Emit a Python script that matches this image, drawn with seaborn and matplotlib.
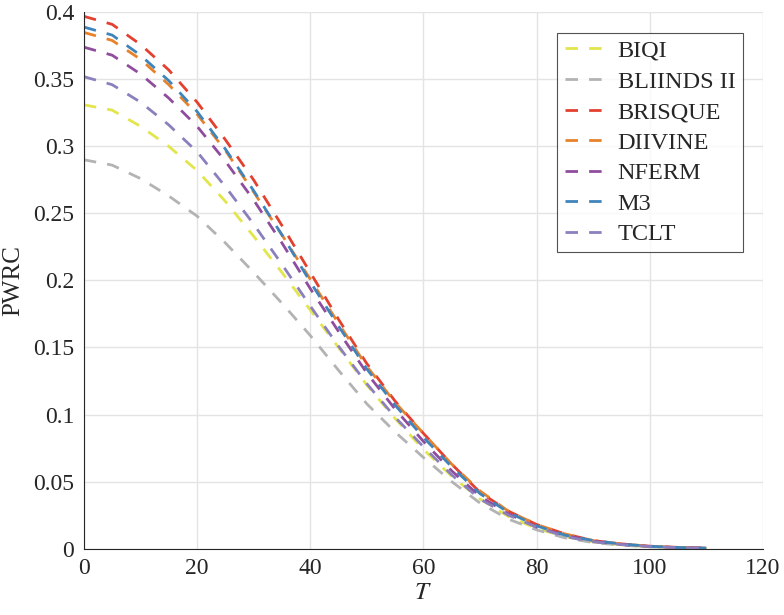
import pandas as pd
import matplotlib
matplotlib.use("Agg")
import matplotlib.pyplot as plt
import seaborn as sns

t = [0, 5, 10, 15, 20, 25, 30, 35, 40, 45, 50, 55, 60, 65, 70, 75, 80, 85, 90, 95, 100, 105, 110]

biqi = [0.331, 0.327, 0.315, 0.300, 0.282, 0.259, 0.233, 0.206, 0.178, 0.150, 0.122, 0.097,
        0.074, 0.054, 0.037, 0.024, 0.015, 0.009, 0.005, 0.0028, 0.0014, 0.0007, 0.0003]
bliinds = [0.290, 0.286, 0.276, 0.263, 0.248, 0.228, 0.206, 0.183, 0.159, 0.133, 0.108, 0.087,
           0.068, 0.050, 0.034, 0.022, 0.014, 0.008, 0.0045, 0.0025, 0.0013, 0.0006, 0.0002]
brisque = [0.397, 0.391, 0.376, 0.357, 0.333, 0.305, 0.275, 0.241, 0.206, 0.171, 0.138, 0.110,
           0.086, 0.063, 0.042, 0.028, 0.018, 0.011, 0.006, 0.0035, 0.0018, 0.0009, 0.0004]
diivine = [0.385, 0.379, 0.365, 0.346, 0.324, 0.297, 0.266, 0.234, 0.201, 0.168, 0.136, 0.109,
           0.086, 0.063, 0.043, 0.028, 0.018, 0.011, 0.006, 0.0035, 0.0018, 0.0009, 0.0004]
nferm = [0.374, 0.368, 0.354, 0.336, 0.315, 0.289, 0.260, 0.228, 0.194, 0.162, 0.131, 0.104,
         0.080, 0.058, 0.039, 0.026, 0.016, 0.010, 0.0055, 0.003, 0.0016, 0.0008, 0.0003]
m3 = [0.389, 0.383, 0.368, 0.349, 0.326, 0.298, 0.267, 0.234, 0.199, 0.166, 0.134, 0.107,
      0.083, 0.061, 0.041, 0.027, 0.017, 0.010, 0.006, 0.0034, 0.0017, 0.0008, 0.0003]
tclt = [0.352, 0.346, 0.333, 0.316, 0.296, 0.270, 0.242, 0.212, 0.181, 0.151, 0.123, 0.098,
        0.076, 0.055, 0.037, 0.025, 0.016, 0.009, 0.005, 0.003, 0.0015, 0.0007, 0.0003]

names = ["BIQI", "BLIINDS II", "BRISQUE", "DIIVINE", "NFERM", "M3", "TCLT"]
series = [biqi, bliinds, brisque, diivine, nferm, m3, tclt]
colors = ["#e3e54d", "#b3b3b3", "#e3412f", "#e7822b", "#8f4d9d", "#3f85bb", "#8b80bd"]

sns.set_style("white")
plt.rcParams['font.family'] = 'serif'
plt.rcParams['font.serif'] = ['Liberation Serif', 'DejaVu Serif']
plt.rcParams['mathtext.fontset'] = 'stix'

fig = plt.figure(figsize=(7.84, 6.15), dpi=100)
ax = fig.add_axes([0.107, 0.108, 0.866, 0.872])

for name, vals, c in zip(names, series, colors):
    df = pd.DataFrame({"T": t, "PWRC": vals})
    sns.lineplot(data=df, x="T", y="PWRC", color=c, label=name, ax=ax,
                 linewidth=2.0, linestyle=(0, (4.5, 4.0)))

ax.set_xlim(0, 120)
ax.set_ylim(0, 0.4)
ax.set_xticks([0, 20, 40, 60, 80, 100, 120])
ax.set_yticks([0, 0.05, 0.1, 0.15, 0.2, 0.25, 0.3, 0.35, 0.4])
ax.set_yticklabels(["0", "0.05", "0.1", "0.15", "0.2", "0.25", "0.3", "0.35", "0.4"])
ax.grid(True, color="#e4e4e4", linewidth=1.0)
ax.set_axisbelow(True)

for s in ["top", "right"]:
    ax.spines[s].set_visible(False)
for s in ["left", "bottom"]:
    ax.spines[s].set_color("#262626")
    ax.spines[s].set_linewidth(0.8)

ax.tick_params(direction="in", length=5, width=0.8, color="#262626",
               labelsize=17, labelcolor="#262626", pad=7)
ax.set_xlabel("$T$", fontsize=18, color="#262626", labelpad=2)
ax.set_ylabel("PWRC", fontsize=18, color="#262626", labelpad=6)

leg = ax.legend(loc="upper right", bbox_to_anchor=(0.9705, 0.962), borderaxespad=0,
                fontsize=17.5, frameon=True, fancybox=False, handlelength=1.56,
                labelspacing=0.35, borderpad=0.3, handletextpad=0.62)
leg.get_frame().set_edgecolor("#262626")
leg.get_frame().set_linewidth(0.8)
for txt in leg.get_texts():
    txt.set_color("#262626")

fig.savefig("out.png", dpi=100)
